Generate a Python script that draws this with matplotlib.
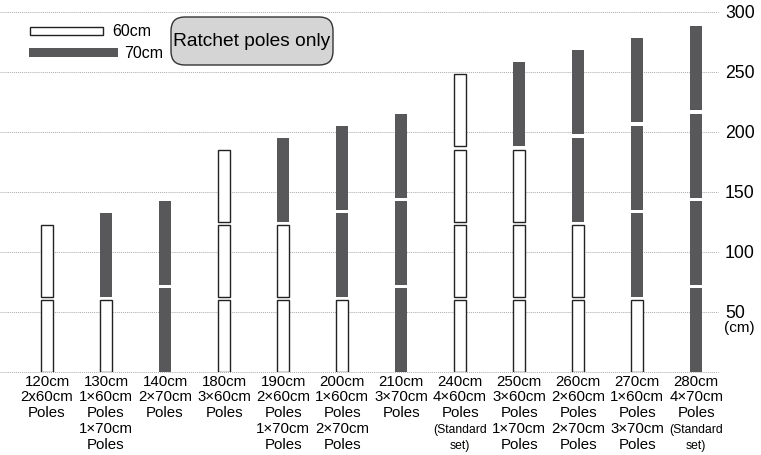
import matplotlib
matplotlib.use('Agg')
import matplotlib.pyplot as plt
from matplotlib import font_manager
from matplotlib.patches import Rectangle, FancyBboxPatch

plt.rcParams['font.family'] = ['Liberation Sans', 'DejaVu Sans']

# pole sets, segments listed bottom to top
totals = ['120cm', '130cm', '140cm', '180cm', '190cm', '200cm',
          '210cm', '240cm', '250cm', '260cm', '270cm', '280cm']
segments = [
    [60, 60],
    [60, 70],
    [70, 70],
    [60, 60, 60],
    [60, 60, 70],
    [60, 70, 70],
    [70, 70, 70],
    [60, 60, 60, 60],
    [60, 60, 60, 70],
    [60, 60, 70, 70],
    [60, 70, 70, 70],
    [70, 70, 70, 70],
]
descr = [
    ['2x60cm', 'Poles'],
    ['1×60cm', 'Poles', '1×70cm', 'Poles'],
    ['2×70cm', 'Poles'],
    ['3×60cm', 'Poles'],
    ['2×60cm', 'Poles', '1×70cm', 'Poles'],
    ['1×60cm', 'Poles', '2×70cm', 'Poles'],
    ['3×70cm', 'Poles'],
    ['4×60cm', 'Poles'],
    ['3×60cm', 'Poles', '1×70cm', 'Poles'],
    ['2×60cm', 'Poles', '2×70cm', 'Poles'],
    ['1×60cm', 'Poles', '3×70cm', 'Poles'],
    ['4×70cm', 'Poles'],
]
standard = ['240cm', '280cm']
yticks = [50, 100, 150, 200, 250, 300]

gap = 2.7
dark = '#58585a'
W, H = 761, 455

fig = plt.figure(figsize=(W / 100, H / 100), dpi=100)
def fx(px):
    return px / W
def fy(py):
    return 1 - py / H

ax = fig.add_axes([0, fy(372), fx(718), (372 - 12) / H])
ax.set_xlim(-0.797, 11.37)
ax.set_ylim(0, 300)

for y in [0] + yticks:
    ax.axhline(y, color='#aaaaaa', lw=0.7, ls=(0, (1, 1)), zorder=0, clip_on=False)

for i, segs in enumerate(segments):
    b = 0
    for s in segs:
        if s == 60:
            ax.bar(i, s, 0.2, bottom=b, color='white', edgecolor='#222222', lw=1.0, zorder=2)
        else:
            ax.bar(i, s, 0.2, bottom=b, color=dark, edgecolor='none', zorder=2)
        b += s + gap

for sp in ax.spines.values():
    sp.set_visible(False)
ax.set_xticks([])
ax.yaxis.tick_right()
ax.set_yticks(yticks)
ax.set_yticklabels([str(t) for t in yticks], fontsize=12.7)
ax.tick_params(axis='y', length=0, pad=5)
for lab in ax.get_yticklabels():
    lab.set_horizontalalignment('left')
fig.text(fx(724), fy(328), '(cm)', fontsize=11, ha='left', va='center')

# category labels under the bars
offs = [10, 25, 41, 57, 73]
for i, name in enumerate(totals):
    lines = [name] + descr[i]
    for k, ln in enumerate(lines):
        ax.annotate(ln, (i, 0), xycoords='data', xytext=(0, -offs[k] * 0.72),
                    textcoords='offset points', ha='center', va='center', fontsize=10.8)
    if name in standard:
        for k, ln in enumerate(['(Standard', 'set)']):
            ax.annotate(ln, (i, 0), xycoords='data', xytext=(0, -(offs[3 + k] + 0.5) * 0.72),
                        textcoords='offset points', ha='center', va='center', fontsize=8.7)

# legend
fig.patches.append(Rectangle((fx(30), fy(35)), fx(103 - 30), (35 - 27) / H,
                             transform=fig.transFigure, facecolor='white',
                             edgecolor='#222222', lw=1.0))
fig.patches.append(Rectangle((fx(29), fy(57)), fx(118 - 29), (57 - 48) / H,
                             transform=fig.transFigure, facecolor=dark, edgecolor='none'))
fig.text(fx(112), fy(31), '60cm', fontsize=11.5, ha='left', va='center')
fig.text(fx(124), fy(53), '70cm', fontsize=11.5, ha='left', va='center')

box = FancyBboxPatch((fx(171), fy(65)), fx(333 - 171), (65 - 17) / H,
                     boxstyle='round,pad=0,rounding_size=0.018',
                     transform=fig.transFigure, facecolor='#d5d5d5',
                     edgecolor='#333333', lw=1.0, mutation_aspect=W / H)
fig.patches.append(box)

names = {f.name for f in font_manager.fontManager.ttflist}
if 'Liberation Sans Narrow' in names:
    fig.text(fx(252), fy(42), 'Ratchet poles only', fontsize=17, ha='center', va='center',
             family='Liberation Sans Narrow')
else:
    fig.text(fx(252), fy(42), 'Ratchet poles only', fontsize=13.8, ha='center', va='center')

fig.savefig('out.png', dpi=100)
